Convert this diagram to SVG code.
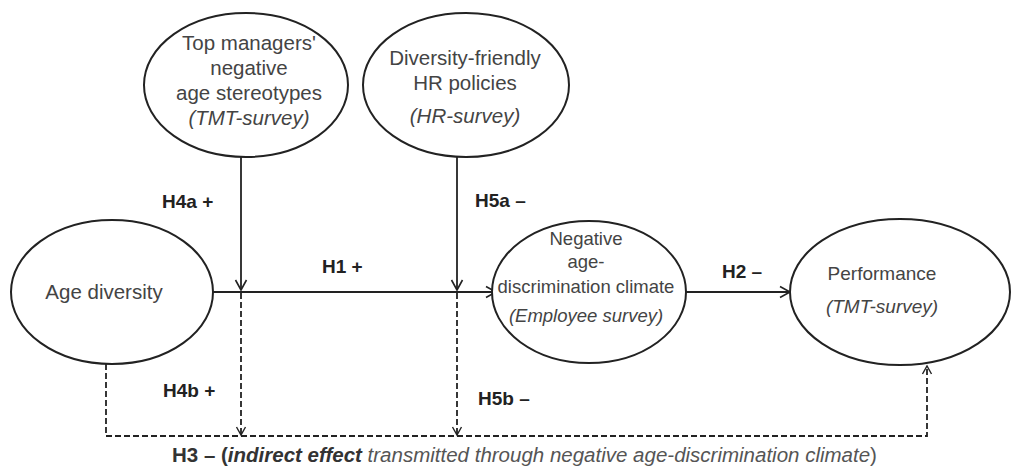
<svg xmlns="http://www.w3.org/2000/svg" width="1023" height="469" viewBox="0 0 1023 469">
<defs>
<marker id="arr" markerWidth="14" markerHeight="14" refX="12" refY="7" orient="auto" markerUnits="userSpaceOnUse">
<path d="M2,1.5 L12,7 L2,12.5" fill="none" stroke="#222" stroke-width="1.6"/>
</marker>
<marker id="arrs" markerWidth="12" markerHeight="12" refX="10" refY="6" orient="auto" markerUnits="userSpaceOnUse">
<path d="M2,1.5 L10,6 L2,10.5" fill="none" stroke="#222" stroke-width="1.4"/>
</marker>
</defs>
<style>
.node ellipse{fill:#fff;stroke:#222;stroke-width:2}
.t{font-family:"Liberation Sans",Arial,sans-serif;font-size:19px;fill:#444;text-anchor:middle}
.big{font-size:20.5px}
.i{font-style:italic}
.lbl{font-family:"Liberation Sans",Arial,sans-serif;font-size:19px;font-weight:bold;fill:#222}
.c{fill:none;stroke:#222;stroke-width:1.8}
.d{fill:none;stroke:#222;stroke-width:1.8;stroke-dasharray:6 3}
</style>
<rect width="1023" height="469" fill="#fff"/>
<g id="connectors">
<line class="c" x1="241" y1="157" x2="241" y2="290" marker-end="url(#arr)"/>
<line class="c" x1="457" y1="157" x2="457" y2="290" marker-end="url(#arr)"/>
<line class="c" x1="213" y1="292" x2="496" y2="292" marker-end="url(#arr)"/>
<line class="c" x1="686" y1="292" x2="790" y2="292" marker-end="url(#arr)"/>
<polyline class="d" points="106,364 106,436 927,436 927,366" marker-end="url(#arrs)"/>
<line class="d" x1="241" y1="293" x2="241" y2="435" marker-end="url(#arrs)"/>
<line class="d" x1="457" y1="293" x2="457" y2="435" marker-end="url(#arrs)"/>
</g>
<g id="n-stereo" class="node">
<ellipse cx="246" cy="85" rx="102" ry="72"/>
<text class="t big" x="249" y="50">Top managers'</text>
<text class="t big" x="249" y="75">negative</text>
<text class="t big" x="249" y="100">age stereotypes</text>
<text class="t big i" x="249" y="125">(TMT-survey)</text>
</g>
<g id="n-hr" class="node">
<ellipse cx="466" cy="85" rx="103" ry="72"/>
<text class="t big" x="465" y="65">Diversity-friendly</text>
<text class="t big" x="465" y="90">HR policies</text>
<text class="t big i" x="465" y="123">(HR-survey)</text>
</g>
<g id="n-age" class="node">
<ellipse cx="112" cy="292" rx="101" ry="72"/>
<text class="t big" x="104" y="299">Age diversity</text>
</g>
<g id="n-climate" class="node">
<ellipse cx="589" cy="292" rx="97" ry="71"/>
<text class="t" x="586" y="245" style="font-size:18.5px">Negative</text>
<text class="t" x="586" y="268" style="font-size:18.5px">age-</text>
<text class="t" x="586" y="293" style="font-size:18.5px">discrimination climate</text>
<text class="t i" x="586" y="322" style="font-size:18.5px">(Employee survey)</text>
</g>
<g id="n-perf" class="node">
<ellipse cx="900" cy="292" rx="110" ry="73"/>
<text class="t" x="882" y="280">Performance</text>
<text class="t i" x="882" y="313">(TMT-survey)</text>
</g>
<g id="labels">
<text class="lbl" x="162" y="208">H4a +</text>
<text class="lbl" x="322" y="273">H1 +</text>
<text class="lbl" x="475" y="207">H5a –</text>
<text class="lbl" x="722" y="278">H2 –</text>
<text class="lbl" x="163" y="397">H4b +</text>
<text class="lbl" x="478" y="405">H5b –</text>
<text x="172" y="462" style="font-family:'Liberation Sans',Arial,sans-serif;font-size:20.5px;fill:#333"><tspan font-weight="bold">H3 – (</tspan><tspan font-weight="bold" font-style="italic">indirect effect</tspan><tspan font-style="italic" fill="#555"> transmitted through negative age-discrimination climate</tspan><tspan fill="#555">)</tspan></text>
</g>
</svg>
